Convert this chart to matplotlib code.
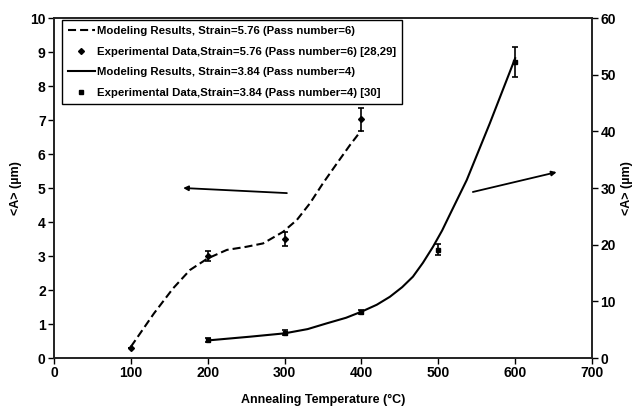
import matplotlib
matplotlib.use("Agg")
import matplotlib.pyplot as plt
from matplotlib.lines import Line2D

plt.rcParams['font.family'] = ['Liberation Sans', 'DejaVu Sans']
plt.rcParams['font.weight'] = 'bold'
plt.rcParams['lines.scale_dashes'] = False

# Strain 5.76 (left axis)
model1_x = [100, 130, 155, 177, 200, 225, 250, 272, 298, 316, 333, 350, 368, 385, 400]
model1_y = [0.33, 1.31, 2.05, 2.59, 2.93, 3.18, 3.27, 3.37, 3.71, 4.06, 4.55, 5.14, 5.72, 6.26, 6.70]
exp1_x = [100, 200, 300, 400]
exp1_y = [0.3, 3.0, 3.5, 7.02]
exp1_err = [0.0, 0.15, 0.2, 0.34]

# Strain 3.84 (right axis)
model2_x = [200, 255, 300, 330, 355, 380, 400, 420, 437, 453, 467, 480, 493, 505, 515, 537, 567, 600]
model2_y = [3.1, 3.76, 4.35, 5.1, 6.12, 7.1, 8.17, 9.4, 10.8, 12.5, 14.35, 16.8, 19.6, 22.5, 25.3, 31.4, 41.4, 52.9]
exp2_x = [200, 300, 400, 500, 600]
exp2_y = [3.2, 4.47, 8.1, 19.1, 52.3]
exp2_err = [0.3, 0.45, 0.4, 1.0, 2.65]

labels = ["Modeling Results, Strain=5.76 (Pass number=6)",
          "Experimental Data,Strain=5.76 (Pass number=6) [28,29]",
          "Modeling Results, Strain=3.84 (Pass number=4)",
          "Experimental Data,Strain=3.84 (Pass number=4) [30]"]

fig = plt.figure(figsize=(6.37, 4.09), dpi=100)
ax1 = fig.add_axes([54/637, 51/409, 538/637, 340/409])
ax2 = ax1.twinx()

dash = (5.8, 2.9)
ax1.plot(model1_x, model1_y, color='black', lw=1.5, dashes=dash)
ax1.errorbar(exp1_x, exp1_y, yerr=exp1_err, fmt='D', ms=3, color='black',
             ecolor='black', elinewidth=1.2, capsize=2.5, capthick=1.2)

ax2.plot(model2_x, model2_y, color='black', lw=1.5)
ax2.errorbar(exp2_x, exp2_y, yerr=exp2_err, fmt='s', ms=2.5, color='black',
             ecolor='black', elinewidth=1.2, capsize=2.5, capthick=1.2)

# arrows
ax1.annotate('', xy=(168, 5.0), xytext=(303, 4.85),
             arrowprops=dict(arrowstyle='-|>', color='black', lw=1.3,
                             mutation_scale=7, shrinkA=0, shrinkB=0))
ax2.annotate('', xy=(654, 32.8), xytext=(545, 29.3),
             arrowprops=dict(arrowstyle='-|>', color='black', lw=1.3,
                             mutation_scale=7, shrinkA=0, shrinkB=0))

ax1.set_xlim(0, 700)
ax1.set_ylim(0, 10)
ax2.set_ylim(0, 60)
ax1.set_xticks(range(0, 701, 100))
ax1.set_yticks(range(0, 11))
ax2.set_yticks(range(0, 61, 10))

for ax in (ax1, ax2):
    ax.tick_params(labelsize=10, width=1, length=4, direction='out', pad=2)
    for s in ax.spines.values():
        s.set_linewidth(1.2)
        s.set_color('#222222')
    for lab in ax.get_xticklabels() + ax.get_yticklabels():
        lab.set_fontweight('bold')

ax1.set_xlabel('Annealing Temperature (°C)', fontsize=9, fontweight='bold', labelpad=10)
ax1.set_ylabel('<A> (µm)', fontsize=9, fontweight='bold', labelpad=6)
ax2.set_ylabel('<A> (µm)', fontsize=9, fontweight='bold', labelpad=4)

handles = [Line2D([], [], color='black', lw=1.5, dashes=dash),
           Line2D([], [], color='black', marker='D', ms=3, ls='none'),
           Line2D([], [], color='black', lw=1.5),
           Line2D([], [], color='black', marker='s', ms=2.5, ls='none')]
leg = ax1.legend(handles, labels, loc='upper left',
                 bbox_to_anchor=(62/637, 1 - 20/409), bbox_transform=fig.transFigure,
                 prop={'size': 8.2, 'weight': 'bold', 'family': 'Liberation Sans'},
                 frameon=True, fancybox=False, edgecolor='black', framealpha=1,
                 handlelength=2.4, handletextpad=0.2, labelspacing=0.95,
                 borderpad=0.5, borderaxespad=0)
leg.get_frame().set_linewidth(1.0)

fig.savefig('out.png', dpi=100)
